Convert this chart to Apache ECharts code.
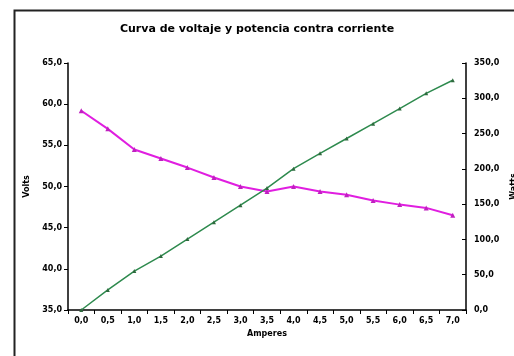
<!DOCTYPE html>
<html><head><meta charset="utf-8">
<script src="https://cdn.jsdelivr.net/npm/echarts@6/dist/echarts.min.js"></script>
<style>html,body{margin:0;padding:0;background:#fff}#c{width:514px;height:356px}</style>
</head><body><div id="c"></div>
<script>
var categories = ['0,0','0,5','1,0','1,5','2,0','2,5','3,0','3,5','4,0','4,5','5,0','5,5','6,0','6,5','7,0'];
var volts = [59.2, 57.0, 54.5, 53.4, 52.3, 51.1, 50.0, 49.4, 50.0, 49.4, 49.0, 48.3, 47.8, 47.4, 46.5];
var watts = [0, 28.4, 55.2, 76.4, 100.5, 124.5, 148.6, 172.7, 200.3, 222.0, 243.0, 264.0, 285.4, 307.0, 325.5];
var titleText = 'Curva de voltaje y potencia contra corriente';

var fmt = function(v){ return v.toFixed(1).replace('.', ','); };
var lblStyle = {color:'#000', fontSize:8, fontWeight:'bold', fontFamily:'DejaVu Sans'};
var chart = echarts.init(document.getElementById('c'), null, {renderer:'canvas'});
chart.setOption({
  animation:false,
  backgroundColor:'#fff',
  graphic:[{type:'rect', left:12, top:8, shape:{width:520, height:360}, style:{fill:'none', stroke:'#222', lineWidth:2}}],
  title:{text:titleText, left:'center', top:19, textStyle:{fontSize:11, fontWeight:'bold', fontFamily:'DejaVu Sans', color:'#000'}},
  grid:{left:68, right:48, top:63, bottom:46, outerBoundsMode:'none', containLabel:false},
  xAxis:{type:'category', data:categories, boundaryGap:true,
    name:'Amperes', nameLocation:'middle', nameGap:20, nameTextStyle:lblStyle,
    axisLine:{lineStyle:{color:'#000', width:1.5}},
    axisTick:{show:true, interval:0, inside:false, length:4, lineStyle:{color:'#000'}},
    axisLabel:Object.assign({interval:0, margin:7}, lblStyle),
    splitLine:{show:false}},
  yAxis:[
    {type:'value', min:35, max:65, interval:5, position:'left',
     name:'Volts', nameLocation:'middle', nameGap:36, nameRotate:90, nameTextStyle:lblStyle,
     axisLine:{show:true, lineStyle:{color:'#000', width:1.5}},
     axisTick:{show:true, length:4, lineStyle:{color:'#000'}},
     axisLabel:Object.assign({formatter:fmt, margin:6}, lblStyle),
     splitLine:{show:false}},
    {type:'value', min:0, max:350, interval:50, position:'right',
     name:'Watts', nameLocation:'middle', nameGap:42, nameRotate:90, nameTextStyle:lblStyle,
     axisLine:{show:true, lineStyle:{color:'#000', width:1.5}},
     axisTick:{show:true, inside:true, length:4, lineStyle:{color:'#000'}},
     axisLabel:Object.assign({formatter:fmt, margin:8}, lblStyle),
     splitLine:{show:false}}
  ],
  series:[
    {name:'Volts', type:'line', yAxisIndex:0, data:volts, symbol:'triangle', symbolSize:5,
     lineStyle:{color:'#e01ee0', width:2}, itemStyle:{color:'#c020c0'}},
    {name:'Watts', type:'line', yAxisIndex:1, data:watts, symbol:'triangle', symbolSize:4,
     lineStyle:{color:'#2e8a4e', width:1.5}, itemStyle:{color:'#2e6a3e'}}
  ]
});
</script></body></html>
